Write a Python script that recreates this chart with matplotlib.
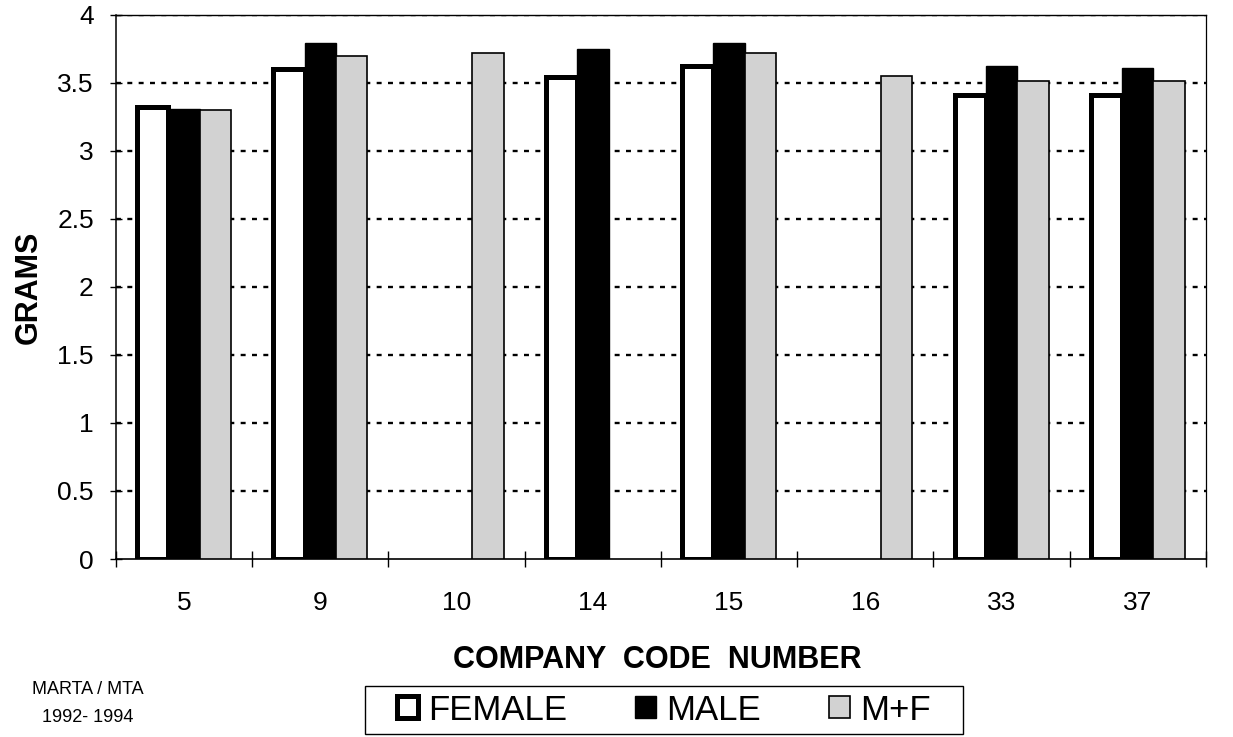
import numpy as np
import matplotlib
matplotlib.use("Agg")
import matplotlib.pyplot as plt
from matplotlib.patches import Patch, Rectangle
from matplotlib.ticker import FixedLocator, NullFormatter

plt.rcParams["font.family"] = ["Liberation Sans", "DejaVu Sans"]

# Company codes and mean weights (grams); None where no bar exists
companies = ["5", "9", "10", "14", "15", "16", "33", "37"]
female = [3.32, 3.60, None, 3.54, 3.62, None, 3.41, 3.41]
male = [3.31, 3.79, None, 3.75, 3.79, None, 3.62, 3.61]
both = [3.30, 3.70, 3.72, None, 3.72, 3.55, 3.51, 3.51]

series_labels = ["FEMALE", "MALE", "M+F"]
y_ticks = [0, 0.5, 1, 1.5, 2, 2.5, 3, 3.5, 4]
y_tick_labels = ["0", "0.5", "1", "1.5", "2", "2.5", "3", "3.5", "4"]

W, H = 1233, 737
fig = plt.figure(figsize=(W / 100, H / 100), dpi=100)
ax = fig.add_axes([0.0941, 0.2415, 0.978 - 0.0941, 0.980 - 0.2415])

x = np.arange(len(companies))
w = 0.23

styles = [
    dict(facecolor="white", edgecolor="black", linewidth=3.6, zorder=3),
    dict(facecolor="black", edgecolor="black", linewidth=1.0, zorder=4),
    dict(facecolor="#d2d2d2", edgecolor="black", linewidth=1.2, zorder=5),
]

for k, (vals, st) in enumerate(zip([female, male, both], styles)):
    xs = [xi + (k - 1) * w for xi, v in zip(x, vals) if v is not None]
    hs = [v for v in vals if v is not None]
    ax.bar(xs, hs, width=w, **st)

ax.set_xlim(-0.5, len(companies) - 0.5)
ax.set_ylim(0, 4)

# Dotted horizontal gridlines
for yv in y_ticks[1:]:
    ax.axhline(yv, color="black", linewidth=1.7,
               linestyle=(0, (2.1, 2.7)), zorder=1)

ax.set_yticks(y_ticks)
ax.set_yticklabels(y_tick_labels)
ax.tick_params(axis="y", direction="inout", length=8, width=1.0,
               labelsize=19, pad=12, colors="black")

ax.set_xticks(x)
ax.set_xticklabels(companies)
ax.xaxis.set_minor_locator(FixedLocator(np.arange(-0.5, len(companies), 1.0)))
ax.xaxis.set_minor_formatter(NullFormatter())
ax.tick_params(axis="x", which="major", length=0, labelsize=19, pad=23)
ax.tick_params(axis="x", which="minor", direction="inout", length=11, width=1.0)

for side in ["left", "bottom", "top", "right"]:
    ax.spines[side].set_color("black")
ax.spines["left"].set_linewidth(1.1)
ax.spines["bottom"].set_linewidth(1.2)
ax.spines["top"].set_linewidth(1.0)
ax.spines["right"].set_linewidth(0.9)

ax.set_ylabel("GRAMS", fontsize=22, fontweight="bold", labelpad=10)
fig.text(0.533, 0.104, "COMPANY  CODE  NUMBER", fontsize=22,
         fontweight="bold", ha="center", va="center")

handles = [
    Patch(facecolor="white", edgecolor="black", linewidth=3.6),
    Patch(facecolor="black", edgecolor="black", linewidth=1.0),
    Patch(facecolor="#d2d2d2", edgecolor="black", linewidth=1.2),
]
fig.legend(handles, series_labels, loc="center",
           bbox_to_anchor=(664 / W, 1 - 710 / H),
           ncol=3, fontsize=25, frameon=False, handlelength=0.6,
           handleheight=0.6, handletextpad=0.3, columnspacing=1.95,
           borderpad=0.2)

# Legend box
box = Rectangle((365 / W, 1 - 734 / H), (963 - 365) / W, 48 / H,
                transform=fig.transFigure, facecolor="none",
                edgecolor="black", linewidth=1.0)
fig.add_artist(box)

fig.text(88 / W, 1 - 690 / H, "MARTA / MTA", fontsize=13,
         ha="center", va="center")
fig.text(88 / W, 1 - 718 / H, "1992- 1994", fontsize=13,
         ha="center", va="center")

fig.savefig("out.png", dpi=100, facecolor="white")
